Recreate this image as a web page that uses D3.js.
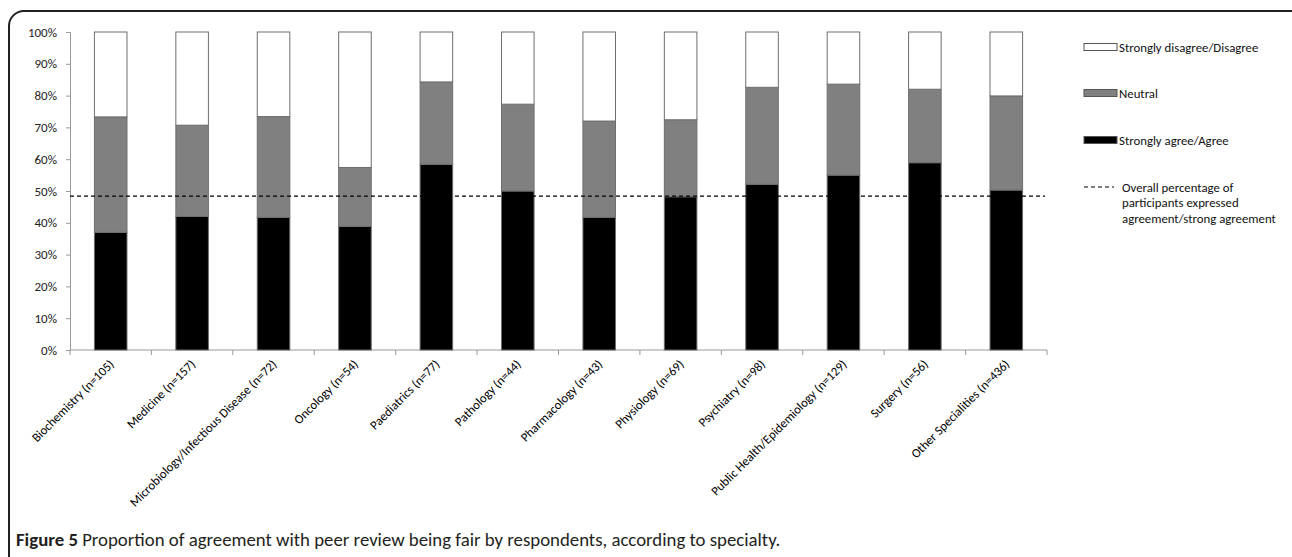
<!DOCTYPE html>
<html>
<head>
<meta charset="utf-8">
<script src="https://cdn.jsdelivr.net/npm/d3@7"></script>
<style>
  body { margin: 0; background: #fff; }
  svg { display: block; font-family: Carlito, Lato, "Open Sans", sans-serif; }
</style>
</head>
<body>
<script>
// chart data (percent)
var categories = ["Biochemistry (n=105)", "Medicine (n=157)", "Microbiology/Infectious Disease (n=72)",
    "Oncology (n=54)", "Paediatrics (n=77)", "Pathology (n=44)", "Pharmacology (n=43)",
    "Physiology (n=69)", "Psychiatry (n=98)", "Public Health/Epidemiology (n=129)",
    "Surgery (n=56)", "Other Specialities (n=436)"];
var agree    = [37.0, 42.0, 41.7, 38.9, 58.4, 50.0, 41.7, 48.2, 52.1, 55.0, 58.9, 50.3];
var neutral  = [36.3, 28.7, 31.7, 18.5, 25.9, 27.3, 30.3, 24.2, 30.5, 28.6, 23.1, 29.6];
var disagree = [26.7, 29.3, 26.6, 42.6, 15.7, 22.7, 28.0, 27.6, 17.4, 16.4, 18.0, 20.1];
var overall = 48.4;
var yTicks = [0, 10, 20, 30, 40, 50, 60, 70, 80, 90, 100];
var seriesKeys = ["agree", "neutral", "disagree"];
var seriesNames = {agree: "Strongly agree/Agree", neutral: "Neutral", disagree: "Strongly disagree/Disagree"};
var seriesFill = {agree: "#000000", neutral: "#808080", disagree: "#ffffff"};

var W = 1292, H = 557;
var plot = {left: 70, right: 1047, top: 32, bottom: 350};

var svg = d3.select("body").append("svg")
    .attr("width", W)
    .attr("height", H);

// rounded figure frame (bottom runs off the picture)
svg.append("rect")
    .attr("x", 9).attr("y", 11)
    .attr("width", 1300).attr("height", 600)
    .attr("rx", 15).attr("ry", 15)
    .attr("fill", "none")
    .attr("stroke", "#222")
    .attr("stroke-width", 2);

var x = d3.scaleBand()
    .domain(categories)
    .range([plot.left, plot.right])
    .paddingInner(0.6)
    .paddingOuter(0.3);

var y = d3.scaleLinear()
    .domain([0, 100])
    .range([plot.bottom, plot.top]);

var table = categories.map(function(c, i) {
    return {cat: c, agree: agree[i], neutral: neutral[i], disagree: disagree[i]};
});
var stacked = d3.stack().keys(seriesKeys)(table);

// y axis
var yAxis = svg.append("g")
    .attr("transform", "translate(" + plot.left + ",0)")
    .call(d3.axisLeft(y).tickValues(yTicks).tickSize(4).tickPadding(9)
        .tickFormat(function(d) { return d + "%"; }));
yAxis.select(".domain").attr("stroke", "#999");
yAxis.selectAll(".tick line").attr("stroke", "#999");
yAxis.selectAll("text").attr("font-size", 13).attr("fill", "#222")
    .attr("font-family", "Carlito, Lato, sans-serif");

// x axis, ticks between categories
var step = x.step();
var bounds = d3.range(categories.length + 1).map(function(i) { return plot.left + i * step; });
var xAxis = svg.append("g");
xAxis.append("line")
    .attr("x1", plot.left).attr("x2", plot.right)
    .attr("y1", plot.bottom).attr("y2", plot.bottom)
    .attr("stroke", "#999");
xAxis.selectAll("line.tk")
    .data(bounds)
    .enter().append("line")
    .attr("class", "tk")
    .attr("x1", function(d) { return d; }).attr("x2", function(d) { return d; })
    .attr("y1", plot.bottom).attr("y2", plot.bottom + 5)
    .attr("stroke", "#999");
xAxis.selectAll("text")
    .data(categories)
    .enter().append("text")
    .attr("transform", function(d) {
        return "translate(" + (x(d) + x.bandwidth() / 2 + 4) + "," + (plot.bottom + 15) + ") rotate(-45)";
    })
    .attr("text-anchor", "end")
    .attr("font-size", 12.7)
    .attr("fill", "#000")
    .text(function(d) { return d; });

// stacked bars
svg.append("g").selectAll("g")
    .data(stacked)
    .enter().append("g")
    .attr("fill", function(s) { return seriesFill[s.key]; })
    .selectAll("rect")
    .data(function(s) { return s; })
    .enter().append("rect")
    .attr("x", function(d) { return x(d.data.cat); })
    .attr("y", function(d) { return y(d[1]); })
    .attr("width", x.bandwidth())
    .attr("height", function(d) { return y(d[0]) - y(d[1]); })
    .attr("stroke", "#6e6e6e")
    .attr("stroke-width", 1);

// overall agreement line
svg.append("line")
    .attr("x1", plot.left).attr("x2", plot.right - 2)
    .attr("y1", y(overall)).attr("y2", y(overall))
    .attr("stroke", "#000")
    .attr("stroke-width", 1.3)
    .attr("stroke-dasharray", "4,3");

// legend
var legend = svg.append("g").attr("font-size", 12.8).attr("fill", "#111");
var legendRows = ["disagree", "neutral", "agree"];
var legendY = [47, 93, 140];
legendRows.forEach(function(k, i) {
    legend.append("rect")
        .attr("x", 1084).attr("y", legendY[i] - 3.5)
        .attr("width", 33).attr("height", 7)
        .attr("fill", seriesFill[k])
        .attr("stroke", "#555");
    legend.append("text")
        .attr("x", 1119).attr("y", legendY[i] + 4.5)
        .text(seriesNames[k]);
});
legend.append("line")
    .attr("x1", 1084).attr("x2", 1114)
    .attr("y1", 187).attr("y2", 187)
    .attr("stroke", "#000")
    .attr("stroke-dasharray", "4,3");
var lines = ["Overall percentage of", "participants expressed", "agreement/strong agreement"];
legend.append("text")
    .attr("x", 1122).attr("y", 191.5)
    .selectAll("tspan")
    .data(lines)
    .enter().append("tspan")
    .attr("x", 1122)
    .attr("dy", function(d, i) { return i === 0 ? 0 : 15.8; })
    .text(function(d) { return d; });

// caption
var cap = svg.append("text")
    .attr("x", 16).attr("y", 546)
    .attr("font-size", 18.8)
    .attr("font-weight", 500)
    .attr("fill", "#231f20")
    .attr("font-family", "Carlito, Lato, 'Open Sans', sans-serif");
cap.append("tspan").attr("font-weight", "bold").text("Figure 5");
cap.append("tspan").text(" Proportion of agreement with peer review being fair by respondents, according to specialty.");
</script>
</body>
</html>
